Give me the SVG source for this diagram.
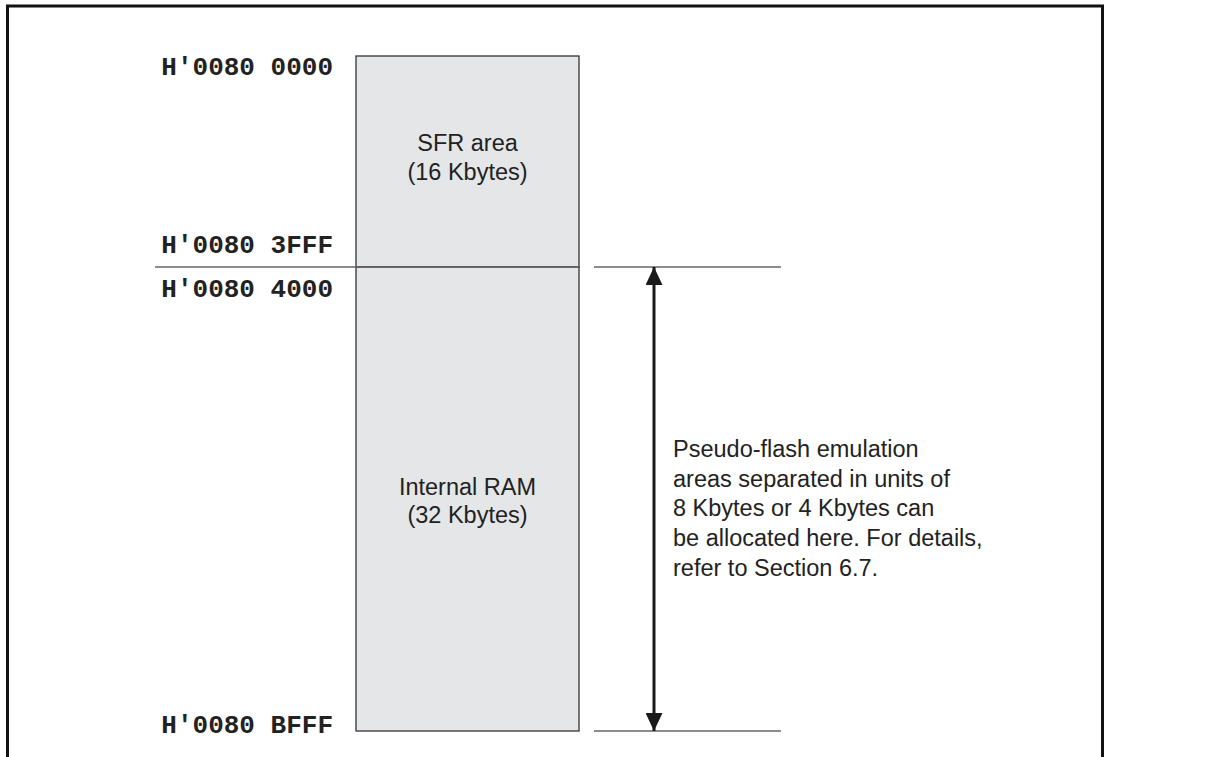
<svg xmlns="http://www.w3.org/2000/svg" width="1206" height="757" viewBox="0 0 1206 757">
<style>
.addr{font-family:"Liberation Mono",monospace;font-weight:bold;font-size:26px;fill:#222;text-anchor:end}
.lbl{font-family:"Liberation Sans",Arial,sans-serif;font-size:23.5px;fill:#222}
.mid{text-anchor:middle}
.area{fill:#e5e6e8;stroke:#333;stroke-width:1.3}
.thin{stroke:#666;stroke-width:1.3;fill:none}
</style>
<defs>
<marker id="ah" viewBox="0 0 18 17" refX="18" refY="8.5" markerWidth="18" markerHeight="17" markerUnits="userSpaceOnUse" orient="auto">
<polygon points="0,0 18,8.5 0,17" fill="#1a1a1a"/>
</marker>
</defs>
<path d="M7.5,757 V6 H1102.5 V757" fill="none" stroke="#111" stroke-width="3"/>
<g id="sfr">
<rect class="area" x="356" y="56" width="223" height="211"/>
<text class="lbl mid" x="467.5" y="151">SFR area</text>
<text class="lbl mid" x="467.5" y="180">(16 Kbytes)</text>
</g>
<g id="ram">
<rect class="area" x="356" y="267" width="223" height="464"/>
<text class="lbl mid" x="467.5" y="495">Internal RAM</text>
<text class="lbl mid" x="467.5" y="523">(32 Kbytes)</text>
</g>
<g id="addresses">
<text class="addr" x="333" y="75">H'0080 0000</text>
<text class="addr" x="333" y="253">H'0080 3FFF</text>
<text class="addr" x="333" y="297">H'0080 4000</text>
<text class="addr" x="333" y="733">H'0080 BFFF</text>
</g>
<g id="connectors">
<line class="thin" x1="155" y1="267" x2="579" y2="267"/>
<line class="thin" x1="594" y1="267" x2="781" y2="267"/>
<line class="thin" x1="594" y1="731" x2="781" y2="731"/>
<line x1="654" y1="499" x2="654" y2="267" stroke="#1a1a1a" stroke-width="3" marker-end="url(#ah)"/>
<line x1="654" y1="499" x2="654" y2="731" stroke="#1a1a1a" stroke-width="3" marker-end="url(#ah)"/>
</g>
<g id="note">
<text class="lbl" x="673" y="457">Pseudo-flash emulation</text>
<text class="lbl" x="673" y="487">areas separated in units of</text>
<text class="lbl" x="673" y="516">8 Kbytes or 4 Kbytes can</text>
<text class="lbl" x="673" y="546">be allocated here. For details,</text>
<text class="lbl" x="673" y="576">refer to Section 6.7.</text>
</g>
</svg>
